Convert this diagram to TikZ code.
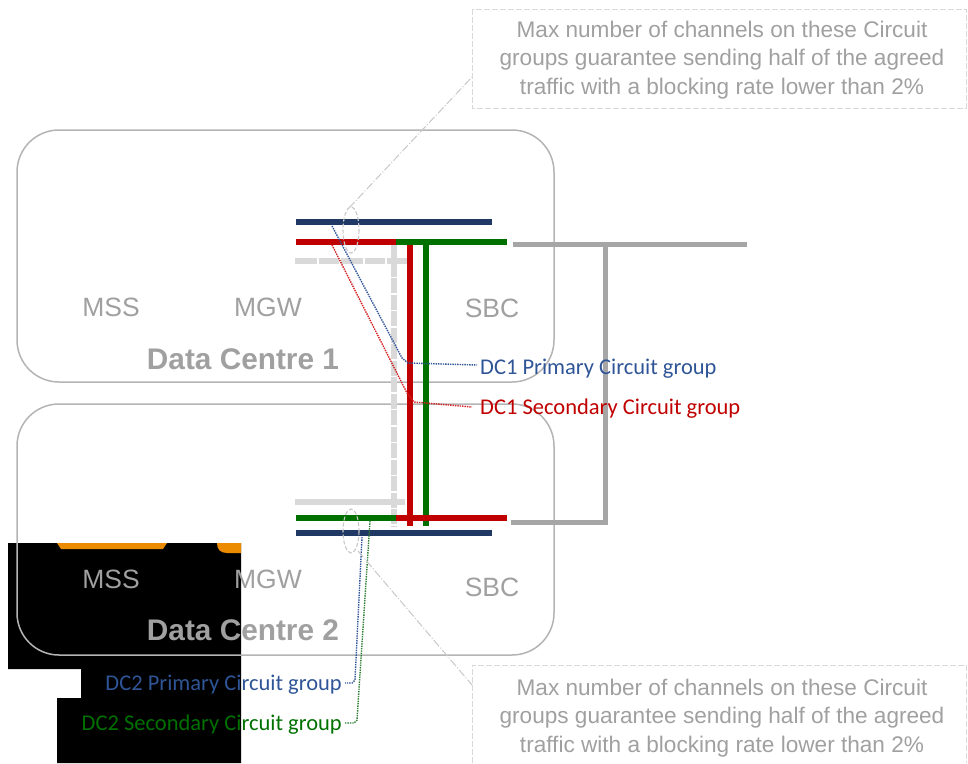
\documentclass[tikz,border=0pt]{standalone}
\usepackage{fontspec}
\setmainfont{Liberation Sans}
\newfontfamily\carl{Carlito}
\definecolor{navy}{HTML}{1F3864}
\definecolor{cred}{HTML}{C00000}
\definecolor{cgreen}{HTML}{007000}
\definecolor{lblue}{HTML}{2F5597}
\definecolor{ltred}{HTML}{D42020}
\definecolor{ltgreen}{HTML}{2E7D32}
\definecolor{txtgray}{HTML}{A0A0A0}
\definecolor{boxgray}{HTML}{B4B4B4}
\definecolor{ltgray}{HTML}{D9D9D9}
\definecolor{midgray}{HTML}{A6A6A6}
\definecolor{orng}{HTML}{ED8B00}
\definecolor{callgray}{HTML}{C8C8C8}
\tikzset{
  dcbox/.style={draw=boxgray, line width=1.5pt, rounded corners=42pt},
  elem/.style={text=txtgray, font=\fontsize{26.5}{30}\selectfont, anchor=base, inner sep=0pt},
  dctitle/.style={text=txtgray, font=\bfseries\fontsize{29.8}{33}\selectfont, anchor=base, inner sep=0pt},
  cglabel/.style={font=\carl\fontsize{22.5}{26}\selectfont, inner sep=0pt},
  bar/.style={line width=6pt},
  ghost/.style={ltgray, line width=6pt},
  trunk/.style={midgray, line width=5pt},
  leader/.style={line width=1.4pt, dash pattern=on 1.4pt off 1pt},
  ring/.style={callgray, line width=1.1pt, dash pattern=on 4pt off 2pt},
  callline/.style={callgray, line width=1pt, dash pattern=on 8pt off 2pt on 1pt off 2pt},
  callbox/.style={ltgray, line width=1pt, dash pattern=on 6pt off 2pt},
  calltext/.style={text=txtgray, font=\fontsize{22.6}{28.3}\selectfont, align=center, inner sep=0pt}
}
\begin{document}
\begin{tikzpicture}[x=1pt,y=-1pt]
\useasboundingbox (0,0) rectangle (968,763);

% black patch and orange bits
\fill[black] (8,543) -- (241,543) -- (241,763) -- (57,763) -- (57,698) -- (81,698) -- (81,669) -- (8,669) -- cycle;
\fill[orng] (57,543) -- (167,543) -- (163,549) -- (61,549) -- cycle;
\fill[orng] (217,543) -- (241,543) -- (241,553) -- (227,553) .. controls (220,553) and (217,549) .. (217,543) -- cycle;

% data centre boxes
\draw[dcbox] (17,130) rectangle (554,382);
\draw[dcbox] (17,404) rectangle (554,655);

% element labels
\node[elem] (mss1) at (111,316) {MSS};
\node[elem] (mgw1) at (268,316) {MGW};
\node[elem] (sbc1) at (492,317) {SBC};
\node[dctitle] (dc1) at (243,369) {Data Centre 1};
\node[elem] (mss2) at (111,588) {MSS};
\node[elem] (mgw2) at (268,588) {MGW};
\node[elem] (sbc2) at (492,596) {SBC};
\node[dctitle] (dc2) at (243,640) {Data Centre 2};

% coordinates
\coordinate (gvT) at (394,245);
\coordinate (gvB) at (394,527);
\coordinate (ghTL) at (295,261);
\coordinate (ghTR) at (407,261);
\coordinate (ghBL) at (295,502);
\coordinate (ghBR) at (405,502);
\coordinate (nTL) at (296,222);  \coordinate (nTR) at (492,222);
\coordinate (rTL) at (296,242);  \coordinate (mT) at (396,242); \coordinate (gTR) at (507,242);
\coordinate (gBL) at (296,518);  \coordinate (mB) at (396,518); \coordinate (rBR) at (507,518);
\coordinate (nBL) at (296,533);  \coordinate (nBR) at (492,533);
\coordinate (rvT) at (410,242);  \coordinate (rvB) at (410,526);
\coordinate (gvvT) at (426,242); \coordinate (gvvB) at (426,526);
\coordinate (tkA) at (513,244); \coordinate (tkB) at (747,244);
\coordinate (tkC) at (605,244); \coordinate (tkD) at (605,522);
\coordinate (tkE) at (511,522);

% ghost (light grey) links
\draw[ghost, dash pattern=on 15pt off 1.5pt] (gvT) -- (gvB);
\draw[ghost, dash pattern=on 22pt off 2pt on 20pt off 2pt] (ghTL) -- (ghTR);
\draw[ghost] (ghBL) -- (ghBR);

% circuit group bars
\draw[bar, navy] (nTL) -- (nTR);
\draw[bar, cred] (rTL) -- (mT);
\draw[bar, cred] (rvT) -- (rvB);
\draw[bar, cgreen] (gvvT) -- (gvvB);
\draw[bar, cgreen] (mT) -- (gTR);
\draw[bar, cgreen] (gBL) -- (mB);
\draw[bar, cred] (mB) -- (rBR);
\draw[bar, navy] (nBL) -- (nBR);

% trunk to the right
\draw[trunk] (tkA) -- (tkB);
\draw[trunk] (tkC) -- (tkD) -- (tkE);

% circuit group labels
\node[cglabel, text=lblue, anchor=base west] (p1) at (480,374) {DC1 Primary Circuit group};
\node[cglabel, text=cred, anchor=base west] (s1) at (480,414) {DC1 Secondary Circuit group};
\node[cglabel, text=lblue, anchor=base east] (p2) at (342,690) {DC2 Primary Circuit group};
\node[cglabel, text=cgreen, anchor=base east] (s2) at (342,730) {DC2 Secondary Circuit group};

% dotted leaders
\coordinate (lp1a) at (332,226); \coordinate (lp1b) at (402,358); \coordinate (lp1c) at (408,363); \coordinate (lp1d) at (477,365);
\draw[leader, lblue] (lp1a) -- (lp1b) -- (lp1c) -- (lp1d);
\coordinate (ls1a) at (332,245); \coordinate (ls1b) at (407,393); \coordinate (ls1c) at (414,402); \coordinate (ls1d) at (472,407);
\draw[leader, ltred] (ls1a) -- (ls1b) -- (ls1c) -- (ls1d);
\coordinate (lp2a) at (362,537); \coordinate (lp2b) at (355,680); \coordinate (lp2c) at (352,683); \coordinate (lp2d) at (345,683);
\draw[leader, lblue] (lp2a) -- (lp2b) -- (lp2c) -- (lp2d);
\coordinate (ls2a) at (370,521); \coordinate (ls2b) at (357,720); \coordinate (ls2c) at (354,723); \coordinate (ls2d) at (345,723);
\draw[leader, ltgreen] (ls2a) -- (ls2b) -- (ls2c) -- (ls2d);

% highlight rings and callouts
\draw[ring] (351,230) ellipse [x radius=8, y radius=23];
\draw[ring] (351,531) ellipse [x radius=8, y radius=22];
\coordinate (ctA) at (349,208); \coordinate (ctB) at (472,77);
\draw[callline] (ctA) -- (ctB);
\coordinate (cbA) at (358,551); \coordinate (cbB) at (472,685);
\draw[callline] (cbA) -- (cbB);

\draw[callbox] (472,9) rectangle (966,108);
\draw[callbox] (472,763) -- (472,665) -- (966,665) -- (966,763);

\node[calltext] (call1) at (722,60) {Max number of channels on these Circuit\\groups guarantee sending half of the agreed\\traffic with a blocking rate lower than 2\%};
\node[calltext] (call2) at (722,718) {Max number of channels on these Circuit\\groups guarantee sending half of the agreed\\traffic with a blocking rate lower than 2\%};
\end{tikzpicture}
\end{document}
